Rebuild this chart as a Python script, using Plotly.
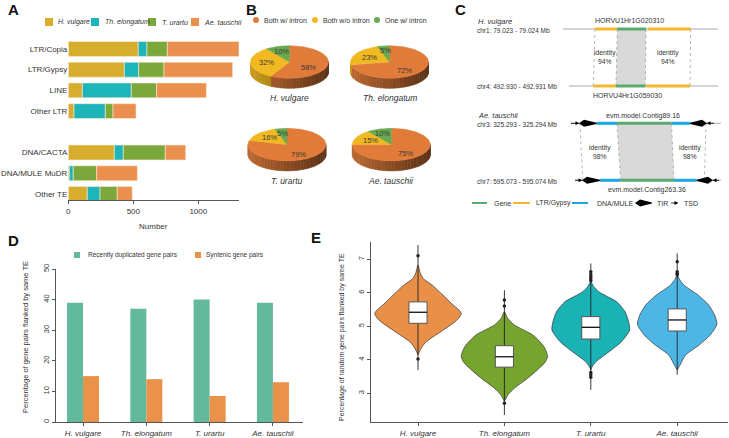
import numpy as np
import plotly.graph_objects as go

W, H = 729, 438
FONT = "Liberation Sans, Arial, sans-serif"
INK = "#333333"

species = ["H. vulgare", "Th. elongatum", "T. urartu", "Ae. tauschii"]
sp_html = [f"<i>{s}</i>" for s in species]

# --- A: TE classes flanking duplicated genes (stacked counts) -------------
te_classes = ["LTR/Copia", "LTR/Gypsy", "LINE", "Other LTR",
              "DNA/CACTA", "DNA/MULE MuDR", "Other TE"]
te_axis_order = te_classes[:4] + [" "] + te_classes[4:]   # blank row = gap
te_hv = [538, 431, 108, 44, 354, 8, 146]
te_th = [67, 110, 377, 241, 69, 30, 98]
te_tu = [157, 195, 194, 59, 323, 180, 133]
te_ae = [551, 528, 383, 177, 157, 313, 115]
sp_colors = ["#D6AD2C", "#1DB5BA", "#7BA83A", "#EA8F4E"]

# --- B: intron status of gene pairs (%) -----------------------------------
intron_labels = ["Both w/ intron", "Both w/o intron", "One w/ intron"]
intron_colors = ["#E07B39", "#F1B921", "#6AA84F"]
pie_hv = [58, 32, 10]
pie_th = [72, 23, 5]
pie_tu = [79, 16, 5]
pie_ae = [75, 15, 10]

# --- C: example loci -------------------------------------------------------
c_species = ["H. vulgare", "Ae. tauschii"]
c_loci = ["chr1: 79.023 - 79.024 Mb", "chr4: 492.930 - 492.931 Mb",
          "chr3: 325.293 - 325.294 Mb", "chr7: 595.073 - 595.074 Mb"]
c_genes = ["HORVU1Hr1G020310", "HORVU4Hr1G059030",
           "evm.model.Contig89.16", "evm.model.Contig263.36"]
c_identity = [94, 94, 98, 98]
c_legend = ["Gene", "LTR/Gypsy", "DNA/MULE", "TIR", "TSD"]
C_GENE, C_LTR, C_DNA, C_GREY = "#5AAA6E", "#F6B630", "#1AA7E6", "#AAAAAA"

# --- D: share of gene pairs flanked by the same TE (%) --------------------
pair_labels = ["Recently duplicated gene pairs", "Syntenic gene pairs"]
pair_colors = ["#63B99C", "#EA914A"]
pct_dup = [39, 37, 40, 39]
pct_syn = [15, 14, 8.5, 13]

# --- E: random gene pairs (%), violin outline -----------------------------
violin_colors = ["#E99048", "#76A52F", "#1BB2B5", "#4CB7E6"]
vio_hv_y = [6.83, 6.6, 6.43, 6.23, 5.93, 5.64, 5.5, 5.39, 5.27, 5.14, 4.84, 4.54, 4.34, 4.14]
vio_hv_w = [0, 0.05, 0.12, 0.33, 0.58, 0.81, 0.94, 1.0, 0.96, 0.86, 0.53, 0.19, 0.07, 0]
vio_th_y = [5.44, 5.25, 5.04, 4.74, 4.44, 4.25, 4.09, 3.92, 3.75, 3.45, 3.15, 2.95, 2.75]
vio_th_w = [0, 0.07, 0.23, 0.66, 0.89, 0.97, 1.0, 0.94, 0.81, 0.54, 0.23, 0.08, 0]
vio_tu_y = [6.33, 6.2, 6.03, 5.73, 5.44, 5.15, 4.89, 4.54, 4.24, 3.94, 3.8, 3.69]
vio_tu_w = [0, 0.07, 0.21, 0.67, 0.88, 0.97, 1.0, 0.79, 0.47, 0.13, 0.04, 0]
vio_ae_y = [6.53, 6.4, 6.23, 5.93, 5.64, 5.34, 5.06, 4.74, 4.44, 4.14, 3.84, 3.69]
vio_ae_w = [0, 0.06, 0.17, 0.53, 0.79, 0.94, 1.0, 0.83, 0.55, 0.21, 0.07, 0]
vio_halfwidth = [0.5, 0.5, 0.45, 0.46]
box_q1 = [5.09, 3.78, 4.62, 4.86]
box_med = [5.42, 4.09, 4.97, 5.19]
box_q3 = [5.73, 4.42, 5.29, 5.52]
box_lo = [3.69, 2.35, 3.10, 3.55]
box_hi = [7.43, 6.08, 6.88, 7.18]
out_hv = [7.11, 4.02]
out_th = [5.79, 5.61, 2.70]
out_tu = [6.63, 6.55, 6.48, 6.42, 6.36, 3.62, 3.55, 3.48]
out_ae = [6.93, 6.63, 6.58, 6.54]


def dom_x(a, b):
    return [a / W, b / W]


def dom_y(top, bottom):
    return [1 - bottom / H, 1 - top / H]


fig = go.Figure()
shapes, annots = [], []


def txt(x, y, s, size=7, anchor="left", color=INK, **kw):
    annots.append(dict(x=x, y=y, xref="x4", yref="y4", text=s, showarrow=False,
                       xanchor=anchor, yanchor="middle",
                       font=dict(family=FONT, size=size, color=color), **kw))


def seg(x0, y0, x1, y1, color, width=1, dash=None):
    shapes.append(dict(type="line", xref="x4", yref="y4", x0=x0, y0=y0, x1=x1, y1=y1,
                       line=dict(color=color, width=width, dash=dash)))


def poly(pts, color):
    path = "M " + " L ".join(f"{x},{y}" for x, y in pts) + " Z"
    shapes.append(dict(type="path", xref="x4", yref="y4", path=path,
                       fillcolor=color, line=dict(width=0)))


# ---------------- A --------------------------------------------------------
base = np.zeros(len(te_classes))
for vals, col in zip([te_hv, te_th, te_tu, te_ae], sp_colors):
    fig.add_trace(go.Bar(y=te_classes, x=vals, base=base.copy(), orientation="h",
                         width=0.72, marker=dict(color=col, line=dict(color="#FBEBD9", width=0.6)),
                         xaxis="x", yaxis="y", showlegend=False, hoverinfo="skip"))
    base += np.array(vals)

for i, (sx, tx) in enumerate(zip([45, 91, 148, 191], [56, 103, 160, 202])):
    shapes.append(dict(type="rect", xref="x4", yref="y4", x0=sx, x1=sx + 8, y0=18, y1=26,
                       fillcolor=sp_colors[i], line=dict(width=0)))
    txt(tx, 22, sp_html[i], size=7)
txt(153, 226, "Number", size=8, anchor="center")

# ---------------- B: 3D-look pies -------------------------------------------
RX, RY, DEPTH = 39, 16.3, 10
pie_centers = [(289.5, 62), (389.5, 62), (287, 144.6), (391.3, 144.6)]


def ell(cx, cy, a):
    t = np.radians(a)
    return cx + RX * np.sin(t), cy - RY * np.cos(t)


def shade(hexc, f):
    r, g, b = (int(hexc[i:i + 2], 16) for i in (1, 3, 5))
    return f"rgb({int(r * f)},{int(g * f)},{int(b * f)})"


for vals, (cx, cy), name in zip([pie_hv, pie_th, pie_tu, pie_ae], pie_centers, sp_html):
    edges = np.concatenate([[0], np.cumsum(vals)]) / sum(vals) * 360
    cuts = sorted(set(np.arange(90, 271, 5)) | {e for e in edges if 90 < e < 270})
    for a0, a1 in zip(cuts[:-1], cuts[1:]):
        k = int(np.searchsorted(edges, (a0 + a1) / 2) - 1)
        x0, y0 = ell(cx, cy, a0)
        x1, y1 = ell(cx, cy, a1)
        f = 0.84 - 0.44 * (((x0 + x1) / 2) - (cx - RX)) / (2 * RX)
        col = shade(intron_colors[k], f)
        fig.add_trace(go.Scatter(x=[x0, x1, x1, x0, x0], y=[y0, y1, y1 + DEPTH, y0 + DEPTH, y0],
                                 mode="lines", fill="toself", fillcolor=col,
                                 line=dict(color=col, width=0.6), xaxis="x4", yaxis="y4",
                                 showlegend=False, hoverinfo="skip"))
    for k in range(3):
        n = max(int((edges[k + 1] - edges[k]) / 2), 2) + 1
        xs, ys = ell(cx, cy, np.linspace(edges[k], edges[k + 1], n))
        fig.add_trace(go.Scatter(x=[cx, *xs, cx], y=[cy, *ys, cy], mode="lines",
                                 fill="toself", fillcolor=intron_colors[k],
                                 line=dict(color=intron_colors[k], width=0.5),
                                 xaxis="x4", yaxis="y4", showlegend=False, hoverinfo="skip"))
        mid = (edges[k] + edges[k + 1]) / 2
        r = 0.5 if vals[k] > 50 else (0.6 if vals[k] > 12 else 0.7)
        lx, ly = cx + r * RX * np.sin(np.radians(mid)), cy - r * RY * np.cos(np.radians(mid))
        txt(lx, ly + (3 if vals[k] > 50 else 0), f"{vals[k]}%", size=7.5,
            anchor="center", color="#3a3a3a")
    txt(cx, cy + 36, name, size=8.5, anchor="center")

for cxl, tx, col, lab in zip([256, 315, 377], [262, 321, 383], intron_colors, intron_labels):
    shapes.append(dict(type="circle", xref="x4", yref="y4", x0=cxl - 3, x1=cxl + 3, y0=17, y1=23,
                       fillcolor=col, line=dict(width=0)))
    txt(tx, 20, lab, size=7)

# ---------------- C: schematic ---------------------------------------------
poly([(617.3, 29), (646, 29), (645.3, 86), (616, 86)], "#D9D9D9")
poly([(617, 123.3), (671.5, 123.3), (674, 180.3), (620.7, 180.3)], "#D9D9D9")
for xa, xb in [(595, 593.3), (617.3, 616), (646, 645.3), (690.7, 690)]:
    seg(xa, 29, xb, 86, "#999999", 0.7, "dot")
for xa, xb in [(580, 582.7), (617, 620.7), (671.5, 674), (706, 704.3)]:
    seg(xa, 123.3, xb, 180.3, "#999999", 0.7, "dot")

tracks = [
    (29, 563, 718, [(595, 617.3, C_LTR), (617.3, 646, C_GENE), (647.7, 690.7, C_LTR)]),
    (86, 569, 718, [(593.3, 616, C_LTR), (616, 645.3, C_GENE), (646, 690, C_LTR)]),
    (123.3, 571, 721, [(596.7, 617, C_DNA), (617, 671.5, C_GENE), (671.5, 690, C_DNA)]),
    (180.3, 575, 721, [(600, 620.7, C_DNA), (620.7, 674, C_GENE), (674, 696.7, C_DNA)]),
]
for y, g0, g1, parts in tracks:
    seg(g0, y, g1, y, C_GREY, 1)
    for x0, x1, col in parts:
        seg(x0, y, x1, y, col, 3)


def tir(x0, x1, y, left):
    if left:
        poly([(x0, y), (x0 + 5, y - 3.5), (x1, y - 0.6), (x1, y + 0.6), (x0 + 5, y + 3.5)], "#000000")
    else:
        poly([(x1, y), (x1 - 5, y - 3.5), (x0, y - 0.6), (x0, y + 0.6), (x1 - 5, y + 3.5)], "#000000")


def tsd(x0, x1, y, right):
    seg(x0, y, x1, y, "#000000", 0.8)
    if right:
        poly([(x1, y), (x1 - 3.5, y - 2), (x1 - 3.5, y + 2)], "#000000")
    else:
        poly([(x0, y), (x0 + 3.5, y - 2), (x0 + 3.5, y + 2)], "#000000")


tsd(571, 579, 123.3, True); tir(579, 596.7, 123.3, True)
tir(690, 707, 123.3, False); tsd(707, 714, 123.3, False)
tsd(575, 582, 180.3, True); tir(582, 600, 180.3, True)
tir(696.7, 713, 180.3, False); tsd(713, 719, 180.3, False)

txt(476, 21.7, f"<i>{c_species[0]}</i>", size=7.5)
txt(476, 115.3, f"<i>{c_species[1]}</i>", size=7.5)
for lab, y in zip(c_loci, [30.5, 86, 124, 181]):
    txt(475, y, lab, size=6.5)
for lab, (x, y) in zip(c_genes, [(629, 20), (627.7, 95.5), (642.7, 115.7), (646.7, 190)]):
    txt(x, y, lab, size=7, anchor="center")
for idv, (x, y) in zip(c_identity, [(605, 57), (668.3, 57), (600, 151.7), (690, 151.7)]):
    txt(x, y, f"identity<br>{idv}%", size=6.8, anchor="center")

seg(472, 203, 487, 203, C_GENE, 2)
seg(513, 203, 530, 203, C_LTR, 2)
seg(572, 203, 588, 203, C_DNA, 2)
tir(635, 652, 203, True)
tsd(671, 678, 203, True)
for lab, x in zip(c_legend, [492, 534, 595, 655, 682]):
    txt(x, 203, lab, size=7)

# ---------------- D --------------------------------------------------------
for vals, col, off in zip([pct_dup, pct_syn], pair_colors, [-0.253, 0.0]):
    fig.add_trace(go.Bar(x=species, y=vals, width=0.253, offset=off,
                         marker=dict(color=col, line=dict(width=0)),
                         xaxis="x2", yaxis="y2", showlegend=False, hoverinfo="skip"))
for sx, tx, col, lab in zip([74, 195], [86, 204], pair_colors, pair_labels):
    shapes.append(dict(type="rect", xref="x4", yref="y4", x0=sx, x1=sx + 6, y0=252, y1=258,
                       fillcolor=col, line=dict(width=0)))
    txt(tx, 255, lab, size=6.5)
txt(25, 337, "Percentage of gene pairs flanked by same TE", size=7.5,
    anchor="center", textangle=-90)

# ---------------- E --------------------------------------------------------
profiles = [(vio_hv_y, vio_hv_w), (vio_th_y, vio_th_w),
            (vio_tu_y, vio_tu_w), (vio_ae_y, vio_ae_w)]
for i, ((ys, ws), hw, col) in enumerate(zip(profiles, vio_halfwidth, violin_colors)):
    xs = [i + hw * w for w in ws] + [i - hw * w for w in reversed(ws)]
    yy = list(ys) + list(reversed(ys))
    fig.add_trace(go.Scatter(x=xs, y=yy, mode="lines", fill="toself", fillcolor=col,
                             line=dict(color="#333333", width=0.7, shape="spline", smoothing=0.6),
                             xaxis="x3", yaxis="y3", showlegend=False, hoverinfo="skip"))

BW = 0.105   # half box width, x units
for i in range(4):
    fig.add_trace(go.Scatter(x=[i, i, None, i, i], y=[box_lo[i], box_q1[i], None, box_q3[i], box_hi[i]],
                             mode="lines", line=dict(color="#222222", width=0.9),
                             xaxis="x3", yaxis="y3", showlegend=False, hoverinfo="skip"))
    fig.add_trace(go.Scatter(x=[i - BW, i + BW, i + BW, i - BW, i - BW],
                             y=[box_q1[i], box_q1[i], box_q3[i], box_q3[i], box_q1[i]],
                             mode="lines", fill="toself", fillcolor="white",
                             line=dict(color="#555555", width=1),
                             xaxis="x3", yaxis="y3", showlegend=False, hoverinfo="skip"))
    fig.add_trace(go.Scatter(x=[i - BW, i + BW], y=[box_med[i], box_med[i]], mode="lines",
                             line=dict(color="#111111", width=1.3),
                             xaxis="x3", yaxis="y3", showlegend=False, hoverinfo="skip"))
for i, outs in enumerate([out_hv, out_th, out_tu, out_ae]):
    fig.add_trace(go.Scatter(x=[i] * len(outs), y=outs, mode="markers",
                             marker=dict(color="#222222", size=3.5),
                             xaxis="x3", yaxis="y3", showlegend=False, hoverinfo="skip"))
txt(342, 337, "Percentage of random gene pairs flanked by same TE", size=7,
    anchor="center", textangle=-90)

for lab, x, y in [("A", 13, 9), ("B", 251, 9), ("C", 460, 9), ("D", 13, 240), ("E", 316, 237)]:
    txt(x, y, f"<b>{lab}</b>", size=15, anchor="center", color="#111111")

axis_common = dict(showgrid=False, zeroline=False, linecolor="#555555", linewidth=1,
                   tickcolor="#555555", ticklen=3, automargin=False,
                   tickfont=dict(family=FONT, size=8, color=INK))
small_ticks = {**axis_common, "tickfont": dict(family=FONT, size=7.5, color=INK)}

fig.update_layout(
    width=W, height=H, margin=dict(l=0, r=0, t=0, b=0, pad=0), autosize=False,
    paper_bgcolor="white", plot_bgcolor="rgba(0,0,0,0)", barmode="overlay",
    showlegend=False, font=dict(family=FONT, color=INK),
    xaxis=dict(domain=dom_x(68.3, 239), anchor="y", range=[0, 1313],
               tickvals=[0, 500, 1000], showline=True, ticks="outside", **axis_common),
    yaxis=dict(domain=dom_y(38.6, 200.2), anchor="x", type="category",
               categoryorder="array", categoryarray=te_axis_order, range=[7.3, -0.5],
               showline=False, ticks="", **axis_common),
    xaxis2=dict(domain=dom_x(56, 303), anchor="y2", type="category", range=[-0.427, 3.475],
                tickvals=species, ticktext=sp_html, showline=True, ticks="outside", **axis_common),
    yaxis2=dict(domain=dom_y(269, 422), anchor="x2", range=[0, 50], dtick=10, tickangle=-90,
                showline=True, ticks="outside", **small_ticks),
    xaxis3=dict(domain=dom_x(371, 728), anchor="y3", range=[-0.544, 3.588],
                tickvals=[0, 1, 2, 3], ticktext=sp_html, showline=True, ticks="outside", **axis_common),
    yaxis3=dict(domain=dom_y(242, 422), anchor="x3", range=[2.14, 7.52], tickvals=[3, 4, 5, 6, 7],
                tickangle=-90, showline=True, ticks="outside", **small_ticks),
    xaxis4=dict(domain=[0, 1], anchor="y4", range=[0, W], visible=False, fixedrange=True),
    yaxis4=dict(domain=[0, 1], anchor="x4", range=[H, 0], visible=False, fixedrange=True),
    shapes=shapes, annotations=annots,
)

# page body has a default 8px margin; drop it so the figure sits at the window origin
fig.write_html("out.html", config={"displayModeBar": False},
               post_script="document.body.style.margin='0';")
